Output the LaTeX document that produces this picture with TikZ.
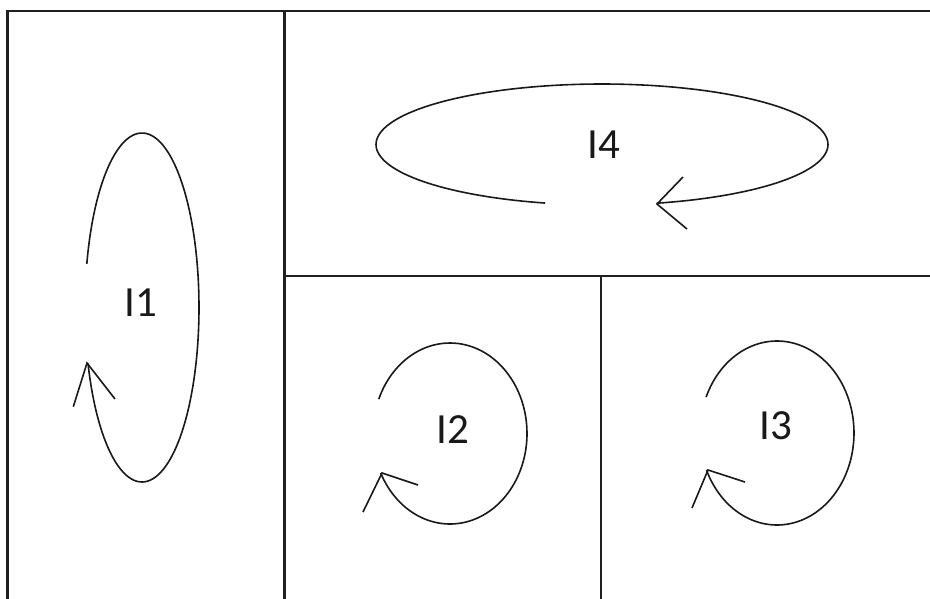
\documentclass[tikz,border=0pt]{standalone}
\usepackage{fontspec}
\setmainfont{Carlito}
\begin{document}
\begin{tikzpicture}[x=1pt,y=-1pt,
  frame/.style={line width=2.4pt,draw=black!88},
  loopline/.style={line width=1.6pt,draw=black!90},
  lbl/.style={font=\fontsize{43}{50}\selectfont,inner sep=0pt,text=black!90}]
\useasboundingbox (0,0) rectangle (930,598);
\fill[white] (0,0) rectangle (930,598);
% frames
\coordinate (tl) at (7.5,11);
\coordinate (tr) at (935,11);
\coordinate (bl) at (7.5,603);
\coordinate (m1t) at (284.3,11);
\coordinate (m1b) at (284.3,603);
\coordinate (hl) at (284.3,276);
\coordinate (hr) at (935,276);
\coordinate (m2t) at (601,276);
\coordinate (m2b) at (601,603);
\draw[frame] (bl) -- (tl) -- (tr);
\draw[frame] (m1t) -- (m1b);
\draw[frame] (hl) -- (hr);
\draw[frame] (m2t) -- (m2b);
% labels
\node[lbl] (i1) at (141,303) {I1};
\node[lbl] (i4) at (604,145) {I4};
\node[lbl] (i2) at (453,430) {I2};
\node[lbl] (i3) at (776,426) {I3};
% loop I1
\draw[loopline] plot[domain=194.5:521.3,samples=120,smooth] ({142+57*cos(\x)},{307.5+174.5*sin(\x)});
\coordinate (t1) at (87,363);
\coordinate (t1a) at (73.3,406.7);
\coordinate (t1b) at (115,399);
\draw[loopline] (t1a) -- (t1) -- (t1b);
% loop I4
\draw[loopline] plot[domain=104.6:436,samples=150,smooth] ({602+226*cos(\x)},{144.5+60.5*sin(\x)});
\coordinate (t4) at (657,204);
\coordinate (t4a) at (683,177);
\coordinate (t4b) at (687,229);
\draw[loopline] (t4a) -- (t4) -- (t4b);
% loop I2
\draw[loopline] plot[domain=202.3:514.1,samples=120,smooth] ({450+77*cos(\x)},{433.5+90.5*sin(\x)});
\coordinate (t2) at (382,473);
\coordinate (t2a) at (363,512);
\coordinate (t2b) at (418,485);
\draw[loopline] (t2a) -- (t2) -- (t2b);
% loop I3
\draw[loopline] plot[domain=203:516.3,samples=120,smooth] ({777+77*cos(\x)},{433+92*sin(\x)});
\coordinate (t3) at (708,470);
\coordinate (t3a) at (692,508);
\coordinate (t3b) at (745,482);
\draw[loopline] (t3a) -- (t3) -- (t3b);
\end{tikzpicture}
\end{document}
